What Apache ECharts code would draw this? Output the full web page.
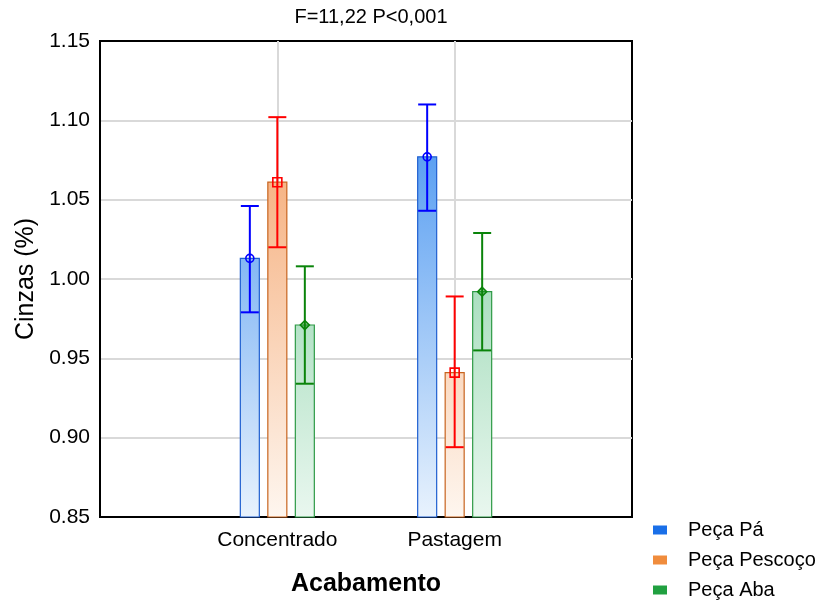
<!DOCTYPE html>
<html><head><meta charset="utf-8">
<script src="https://cdn.jsdelivr.net/npm/echarts@6/dist/echarts.min.js"></script>
<style>html,body{margin:0;padding:0;background:#fff}#c{width:822px;height:603px}</style>
</head><body><div id="c"></div>
<script>
const categories = ['Concentrado', 'Pastagem'];
const seriesNames = ['Peça Pá', 'Peça Pescoço', 'Peça Aba'];
const meanPa = [1.013, 1.077];
const lowPa = [0.979, 1.043];
const highPa = [1.046, 1.110];
const meanPescoco = [1.061, 0.941];
const lowPescoco = [1.020, 0.894];
const highPescoco = [1.102, 0.989];
const meanAba = [0.971, 0.992];
const lowAba = [0.934, 0.955];
const highAba = [1.008, 1.029];
const yTicks = [0.85, 0.90, 0.95, 1.00, 1.05, 1.10, 1.15];

const FONT = '"Liberation Sans", Arial, sans-serif';
const styles = [
  {top:'#2f86ee', bottom:'#e8f2fd', border:'#1f5fd0', err:'#0000ff', marker:'circle', legend:'#1a6fe8'},
  {top:'#f3995a', bottom:'#fef6ef', border:'#c8641e', err:'#ff0000', marker:'square', legend:'#f08c3c'},
  {top:'#66c48c', bottom:'#e9f7ef', border:'#2e9a46', err:'#0a840a', marker:'diamond', legend:'#20a040'}
];
const means = [meanPa, meanPescoco, meanAba];
const lows = [lowPa, lowPescoco, lowAba];
const highs = [highPa, highPescoco, highAba];
const offsets = [-27.5, 0, 27.5];
const BW = 19;

function makeSeries(si) {
  const st = styles[si];
  const data = categories.map((c, i) => [i + 1, means[si][i], lows[si][i], highs[si][i]]);
  return {
    type: 'custom',
    name: seriesNames[si],
    itemStyle: {color: st.legend},
    data: data,
    renderItem: function (params, api) {
      const cs = params.coordSys;
      const x = api.value(0);
      const pm = api.coord([x, api.value(1)]);
      const pb = api.coord([x, yTicks[0]]);
      const pl = api.coord([x, api.value(2)]);
      const ph = api.coord([x, api.value(3)]);
      const cx = pm[0] + offsets[si];
      const grad = new echarts.graphic.LinearGradient(0, cs.y, 0, cs.y + cs.height,
        [{offset: 0, color: st.top}, {offset: 1, color: st.bottom}], true);
      const children = [];
      children.push({type: 'rect', shape: {x: cx - BW / 2, y: pm[1], width: BW, height: pb[1] - pm[1]},
        style: {fill: grad, stroke: st.border, lineWidth: 1.2}});
      const lw = 2;
      const cap = 9;
      children.push({type: 'line', shape: {x1: cx, y1: pl[1], x2: cx, y2: ph[1]}, style: {stroke: st.err, lineWidth: lw}});
      children.push({type: 'line', shape: {x1: cx - cap, y1: pl[1], x2: cx + cap, y2: pl[1]}, style: {stroke: st.err, lineWidth: lw}});
      children.push({type: 'line', shape: {x1: cx - cap, y1: ph[1], x2: cx + cap, y2: ph[1]}, style: {stroke: st.err, lineWidth: lw}});
      if (st.marker === 'circle') {
        children.push({type: 'circle', shape: {cx: cx, cy: pm[1], r: 4}, style: {fill: 'none', stroke: st.err, lineWidth: 1.6}});
      } else if (st.marker === 'square') {
        children.push({type: 'rect', shape: {x: cx - 4.5, y: pm[1] - 4.5, width: 9, height: 9}, style: {fill: 'none', stroke: st.err, lineWidth: 1.6}});
      } else {
        children.push({type: 'polygon', shape: {points: [[cx, pm[1] - 4.5], [cx + 4.5, pm[1]], [cx, pm[1] + 4.5], [cx - 4.5, pm[1]]]},
          style: {fill: 'rgba(10,132,10,0.45)', stroke: st.err, lineWidth: 1.6}});
      }
      return {type: 'group', children: children};
    }
  };
}

const chart = echarts.init(document.getElementById('c'), null, {renderer: 'canvas'});
chart.setOption({
  animation: false,
  backgroundColor: '#fff',
  textStyle: {fontFamily: FONT},
  title: {text: 'F=11,22 P<0,001', left: 366, textAlign: 'center', top: 2,
    textStyle: {fontFamily: FONT, fontSize: 20, fontWeight: 'normal', color: '#000'}},
  grid: {left: 100, right: 190, top: 41, bottom: 86, show: true, borderColor: '#000', borderWidth: 2, containLabel: false},
  legend: {
    orient: 'vertical', left: 653, top: 520, padding: 0, itemWidth: 14, itemHeight: 9, itemGap: 10,
    icon: 'rect', data: seriesNames,
    textStyle: {fontFamily: FONT, fontSize: 20, lineHeight: 20, color: '#000', padding: [0, 0, 0, 16]}
  },
  xAxis: {
    type: 'value', min: 0, max: 3, interval: 1,
    name: 'Acabamento', nameLocation: 'middle', nameGap: 55,
    nameTextStyle: {fontFamily: FONT, fontSize: 25, fontWeight: 'bold', color: '#000'},
    axisLine: {show: true, lineStyle: {color: '#000', width: 2}},
    axisTick: {show: true, inside: true, length: 4, lineStyle: {color: '#000', width: 1.5}},
    axisLabel: {fontFamily: FONT, fontSize: 21, color: '#000', margin: 13,
      formatter: v => (v >= 1 && v <= categories.length && Number.isInteger(v)) ? categories[v - 1] : ''},
    splitLine: {show: true, showMinLine: false, showMaxLine: false, lineStyle: {color: '#d9d9d9', width: 2}}
  },
  yAxis: {
    type: 'value', min: yTicks[0], max: yTicks[yTicks.length - 1], interval: 0.05,
    name: 'Cinzas (%)', nameLocation: 'middle', nameGap: 61, nameRotate: 90,
    nameTextStyle: {fontFamily: FONT, fontSize: 25, color: '#000'},
    axisLine: {show: true, lineStyle: {color: '#000', width: 2}},
    axisTick: {show: false},
    axisLabel: {fontFamily: FONT, fontSize: 21, color: '#000', margin: 10, formatter: v => v.toFixed(2)},
    splitLine: {show: true, showMinLine: false, showMaxLine: false, lineStyle: {color: '#d9d9d9', width: 2}}
  },
  series: [makeSeries(0), makeSeries(1), makeSeries(2)]
});
</script></body></html>
